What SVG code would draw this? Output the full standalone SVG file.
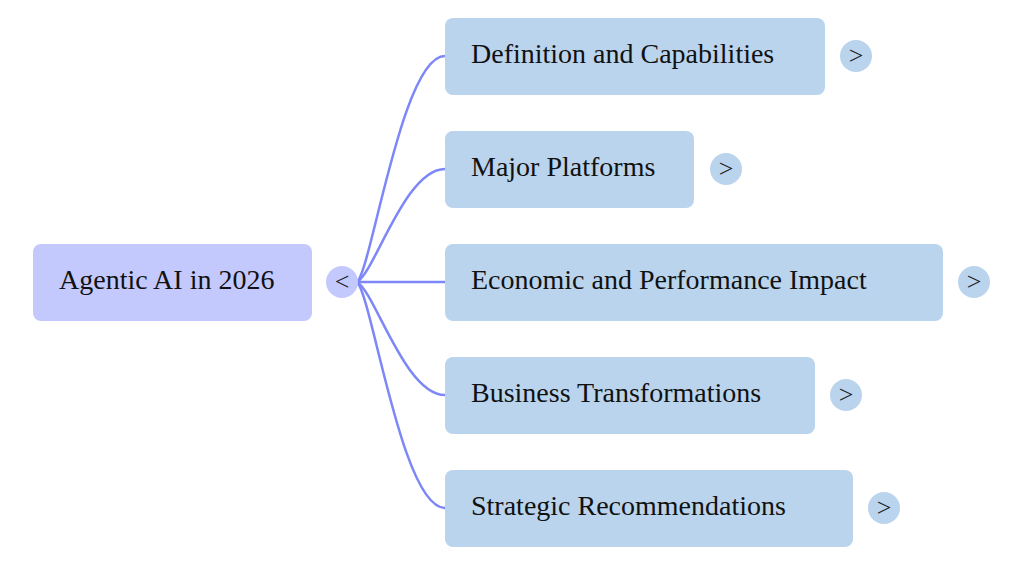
<svg xmlns="http://www.w3.org/2000/svg" width="1024" height="565" viewBox="0 0 1024 565">
<style>
.root{fill:#c4c9fd}
.child{fill:#bad4ee}
.rc{fill:#c4c9fd}
.cc{fill:#bad4ee}
.t{font-family:"Liberation Serif",serif;font-size:28px;fill:#111}
.s{font-family:"Liberation Serif",serif;font-size:26px;fill:#222;text-anchor:middle}
.ln{fill:none;stroke:#7d87f7;stroke-width:2.5}
</style>
<rect width="1024" height="565" fill="#fff"/>
<g id="connectors">
<path class="ln" d="M357 282 C372 268 402 56 445 56"/>
<path class="ln" d="M357 282 C375 272 405 169 445 169"/>
<path class="ln" d="M357 282 L445 282"/>
<path class="ln" d="M357 282 C375 292 405 395 445 395"/>
<path class="ln" d="M357 282 C372 296 402 508 445 508"/>
</g>
<g id="root">
<rect class="root" x="33" y="244" width="279" height="77" rx="8"/>
<text class="t" x="59" y="289">Agentic AI in 2026</text>
<circle class="rc" cx="342" cy="282" r="16"/>
<text class="s" x="342" y="290">&lt;</text>
</g>
<g id="n1">
<rect class="child" x="445" y="18" width="380" height="77" rx="8"/>
<text class="t" x="471" y="63">Definition and Capabilities</text>
<circle class="cc" cx="856" cy="56" r="16"/>
<text class="s" x="856" y="64">&gt;</text>
</g>
<g id="n2">
<rect class="child" x="445" y="131" width="249" height="77" rx="8"/>
<text class="t" x="471" y="176">Major Platforms</text>
<circle class="cc" cx="726" cy="169" r="16"/>
<text class="s" x="726" y="177">&gt;</text>
</g>
<g id="n3">
<rect class="child" x="445" y="244" width="498" height="77" rx="8"/>
<text class="t" x="471" y="289">Economic and Performance Impact</text>
<circle class="cc" cx="974" cy="282" r="16"/>
<text class="s" x="974" y="290">&gt;</text>
</g>
<g id="n4">
<rect class="child" x="445" y="357" width="370" height="77" rx="8"/>
<text class="t" x="471" y="402">Business Transformations</text>
<circle class="cc" cx="846" cy="395" r="16"/>
<text class="s" x="846" y="403">&gt;</text>
</g>
<g id="n5">
<rect class="child" x="445" y="470" width="408" height="77" rx="8"/>
<text class="t" x="471" y="515">Strategic Recommendations</text>
<circle class="cc" cx="884" cy="508" r="16"/>
<text class="s" x="884" y="516">&gt;</text>
</g>
</svg>
